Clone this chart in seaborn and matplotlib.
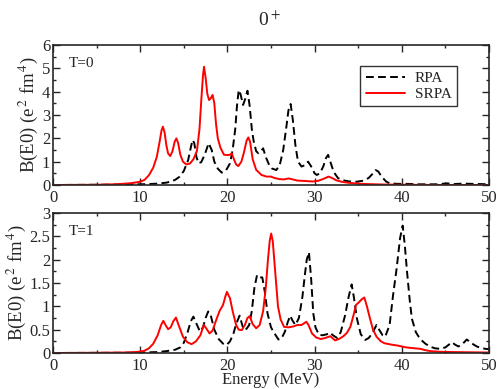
import numpy as np
import pandas as pd
import matplotlib
matplotlib.use("Agg")
import matplotlib.pyplot as plt
from matplotlib.ticker import MultipleLocator
import seaborn as sns

# ---------------- data ----------------
t0_srpa_E = [0, 5, 7, 8, 9, 10, 10.5, 11, 11.5, 11.9, 12.2, 12.45, 12.6, 12.8, 13.0, 13.2, 13.45, 13.7, 13.95, 14.15,
             14.35, 14.6, 14.9, 15.3, 15.7, 16.1, 16.5, 16.8, 17.0, 17.2, 17.32, 17.5, 17.7, 17.9, 18.1, 18.3, 18.5,
             18.7, 18.9, 19.2, 19.6, 20.0, 20.3, 20.5, 20.75, 21.0, 21.25, 21.6, 21.9, 22.2, 22.4, 22.6, 22.9, 23.3,
             23.9, 24.5, 25.0, 25.4, 26.0, 26.5, 27.0, 27.5, 28.0, 29.0, 29.8, 30.4, 31.0, 31.6, 32.0, 32.5, 33.2,
             34.0, 35, 36, 37, 38, 40, 45, 50]
t0_srpa_B = [0.0, 0.01, 0.03, 0.05, 0.08, 0.14, 0.22, 0.42, 0.75, 1.2, 1.8, 2.35, 2.5, 2.25, 1.7, 1.35, 1.24, 1.45, 1.85, 2.0,
             1.8, 1.3, 1.0, 0.88, 0.92, 1.1, 1.45, 2.4, 3.6, 4.7, 5.07, 4.6, 3.9, 3.64, 3.72, 3.86, 3.5,
             2.6, 2.0, 1.6, 1.3, 1.28, 1.3, 1.36, 1.1, 0.88, 0.81, 1.0, 1.4, 1.9, 2.04, 1.85, 1.1, 0.65,
             0.43, 0.36, 0.36, 0.3, 0.25, 0.24, 0.28, 0.24, 0.19, 0.17, 0.15, 0.18, 0.26, 0.36, 0.3, 0.2, 0.13,
             0.09, 0.06, 0.04, 0.03, 0.02, 0.01, 0.0, 0.0]

t0_rpa_E = [0, 5, 8, 10, 11, 12, 13, 13.5, 14, 14.5, 15.0, 15.5, 15.8, 16.0, 16.2, 16.45, 16.7, 17.0, 17.4, 17.85, 18.2,
            18.5, 18.9, 19.35, 19.8, 20.3, 20.6, 20.9, 21.1, 21.3, 21.5, 21.8, 22.05, 22.3, 22.55, 22.8, 23.0, 23.3,
            23.55, 23.85, 24.1, 24.4, 24.8, 25.1, 25.6, 26.0, 26.4, 26.8, 27.0, 27.25, 27.5, 27.8, 28.1, 28.5, 28.9,
            29.25, 29.6, 30.0, 30.25, 30.6, 31.0, 31.3, 31.55, 31.8, 32.2, 32.7, 33.3, 34.0, 34.8, 35.5, 36.2, 36.7,
            37.0, 37.3, 37.7, 38.2, 38.6, 39.5, 40.5, 42, 44, 45.2, 46, 47, 48, 49, 50]
t0_rpa_B = [0.0, 0.01, 0.02, 0.03, 0.04, 0.06, 0.1, 0.15, 0.22, 0.35, 0.6, 1.07, 1.6, 1.93, 1.8, 1.2, 0.93, 0.98, 1.3, 1.79, 1.5,
            1.0, 0.7, 0.53, 0.6, 0.93, 1.5, 2.4, 3.4, 4.07, 3.9, 3.43, 3.7, 4.04, 3.4, 2.4, 1.9, 1.45,
            1.36, 1.45, 1.57, 1.2, 0.85, 0.71, 0.64, 0.85, 1.5, 2.6, 3.2, 3.47, 2.8, 1.7, 1.0, 0.79, 0.85,
            1.0, 0.8, 0.5, 0.43, 0.5, 0.8, 1.15, 1.29, 1.0, 0.55, 0.29, 0.2, 0.15, 0.14, 0.18, 0.3, 0.5,
            0.64, 0.58, 0.35, 0.15, 0.07, 0.05, 0.05, 0.03, 0.03, 0.07, 0.04, 0.06, 0.05, 0.04, 0.03]

t1_srpa_E = [0, 5, 8, 9, 10, 10.5, 11, 11.5, 12.0, 12.4, 12.65, 12.9, 13.2, 13.5, 13.8, 14.1, 14.4, 14.9, 15.4, 15.9,
             16.4, 16.9, 17.3, 17.6, 17.95, 18.3, 18.7, 19.1, 19.5, 19.75, 19.95, 20.3, 20.6, 21.0, 21.3, 21.65, 22.0,
             22.3, 22.55, 22.9, 23.3, 23.7, 24.1, 24.4, 24.65, 24.85, 25.02, 25.2, 25.5, 25.8, 26.1, 26.5, 27.0, 27.6,
             28.0, 28.5, 29.05, 29.3, 29.7, 30.2, 30.7, 31.2, 31.8, 32.35, 32.8, 33.3, 33.7, 34.1, 34.45, 34.75, 35.1,
             35.4, 35.7, 36.0, 36.35, 36.7, 37.1, 37.6, 38.0, 38.8, 39.5, 40.5, 41.5, 42.1, 42.7, 43.3, 44.5, 46, 48, 50]
t1_srpa_B = [0.0, 0.005, 0.01, 0.015, 0.03, 0.05, 0.1, 0.2, 0.38, 0.6, 0.69, 0.6, 0.51, 0.55, 0.68, 0.76, 0.6, 0.35, 0.23, 0.19,
             0.25, 0.38, 0.6, 0.52, 0.42, 0.48, 0.7, 0.9, 1.03, 1.2, 1.31, 1.17, 0.9, 0.6, 0.5, 0.49, 0.6,
             0.75, 0.79, 0.62, 0.53, 0.6, 0.9, 1.4, 2.0, 2.4, 2.56, 2.4, 1.7, 1.0, 0.72, 0.56, 0.55, 0.57,
             0.6, 0.6, 0.67, 0.6, 0.42, 0.33, 0.3, 0.32, 0.36, 0.27, 0.3, 0.36, 0.43, 0.56, 0.8, 1.03, 1.09,
             1.15, 1.19, 1.0, 0.74, 0.5, 0.35, 0.25, 0.21, 0.18, 0.16, 0.12, 0.1, 0.09, 0.06, 0.04, 0.025, 0.02, 0.015, 0.01]

t1_rpa_E = [0, 8, 10, 11, 12, 13, 14, 14.6, 15.0, 15.4, 15.8, 16.1, 16.4, 16.85, 17.2, 17.5, 17.8, 18.1, 18.5, 19.0, 19.5,
            19.9, 20.3, 20.7, 21.0, 21.4, 21.7, 21.9, 22.2, 22.5, 22.8, 23.1, 23.4, 23.7, 24.0, 24.3, 24.6, 25.0, 25.3,
            25.85, 26.2, 26.6, 26.9, 27.2, 27.45, 27.8, 28.2, 28.6, 28.9, 29.1, 29.35, 29.6, 29.85, 30.1, 30.5, 30.9,
            31.4, 31.75, 32.1, 32.6, 33.0, 33.5, 33.9, 34.25, 34.5, 34.85, 35.3, 35.8, 36.2, 36.6, 37.1, 37.4, 37.8,
            38.1, 38.6, 39.0, 39.4, 39.8, 40.1, 40.35, 40.6, 40.9, 41.15, 41.6, 42.1, 42.7, 43.2, 43.8, 44.4, 45.0,
            45.4, 45.75, 46.1, 46.5, 47.0, 47.45, 47.9, 48.6, 49.2, 50]
t1_rpa_B = [0.0, 0.005, 0.01, 0.015, 0.02, 0.04, 0.07, 0.12, 0.22, 0.42, 0.68, 0.78, 0.65, 0.46, 0.55, 0.75, 0.89, 0.8, 0.5, 0.3, 0.2,
            0.17, 0.25, 0.42, 0.62, 0.8, 0.6, 0.49, 0.52, 0.6, 0.9, 1.4, 1.67, 1.62, 1.62, 1.3, 0.85, 0.55, 0.45,
            0.29, 0.31, 0.46, 0.65, 0.8, 0.7, 0.6, 0.75, 1.2, 1.7, 2.0, 2.16, 1.6, 0.85, 0.55, 0.39, 0.38,
            0.4, 0.44, 0.38, 0.32, 0.45, 0.81, 1.2, 1.47, 1.2, 0.74, 0.4, 0.28, 0.32, 0.42, 0.6, 0.5, 0.38,
            0.35, 0.6, 1.24, 1.8, 2.46, 2.73, 2.3, 1.74, 1.15, 0.74, 0.45, 0.3, 0.2, 0.14, 0.1, 0.09, 0.12,
            0.18, 0.23, 0.18, 0.14, 0.2, 0.29, 0.22, 0.14, 0.1, 0.08]

series_names = ["RPA", "SRPA"]
panel_labels = ["T=0", "T=1"]
title_text = "0$^+$"
x_label = "Energy (MeV)"
y_label = "B(E0) (e$^{\\,2}$ fm$^{\\,4}$)"
x_ticks = [0, 10, 20, 30, 40, 50]
y_lims = [(0, 6), (0, 3)]

# ---------------- build tidy frames ----------------
def frame(E_rpa, B_rpa, E_srpa, B_srpa):
    a = pd.DataFrame({"E": E_rpa, "B": B_rpa, "model": series_names[0]})
    b = pd.DataFrame({"E": E_srpa, "B": B_srpa, "model": series_names[1]})
    return pd.concat([a, b], ignore_index=True)

df0 = frame(t0_rpa_E, t0_rpa_B, t0_srpa_E, t0_srpa_B)
df1 = frame(t1_rpa_E, t1_rpa_B, t1_srpa_E, t1_srpa_B)

# ---------------- style ----------------
sns.set_style("ticks")
plt.rcParams["font.family"] = ["Liberation Serif", "DejaVu Serif"]
plt.rcParams["mathtext.fontset"] = "stix"

fig = plt.figure(figsize=(4.98, 3.89), dpi=100)
W, H = 498, 389
ax0 = fig.add_axes([53 / W, 1 - 185 / H, 436 / W, 140 / H])
ax1 = fig.add_axes([53 / W, 1 - 353 / H, 436 / W, 140 / H])

palette = {series_names[0]: "black", series_names[1]: "#ff0000"}
dashes = {series_names[0]: (4, 2.2), series_names[1]: ""}

for ax, df, ylim, lab, ymaj, ymin in [
    (ax0, df0, y_lims[0], panel_labels[0], 1, 0.5),
    (ax1, df1, y_lims[1], panel_labels[1], 0.5, 0.25),
]:
    sns.lineplot(data=df, x="E", y="B", hue="model", style="model", palette=palette,
                 dashes=dashes, linewidth=1.4, ax=ax, legend=(ax is ax0), sort=False,
                 estimator=None)
    ax.set_xlim(0, 50)
    ax.set_ylim(*ylim)
    ax.set_xticks(x_ticks)
    ax.xaxis.set_minor_locator(MultipleLocator(5))
    ax.yaxis.set_major_locator(MultipleLocator(ymaj))
    ax.yaxis.set_minor_locator(MultipleLocator(ymin))
    ax.yaxis.set_major_formatter(matplotlib.ticker.FormatStrFormatter("%g"))
    ax.tick_params(which="both", direction="in", top=True, right=True, labelsize=12)
    ax.tick_params(axis="x", pad=3.5)
    ax.tick_params(axis="y", pad=2)
    ax.tick_params(which="major", length=5, width=1)
    ax.tick_params(which="minor", length=2.5, width=1)
    for s in ax.spines.values():
        s.set_linewidth(1.2)
        s.set_visible(True)
    ax.set_ylabel(y_label, fontsize=13.5, labelpad=1)
    ax.set_xlabel("")
    ax.text(0.035, 0.87, lab, transform=ax.transAxes, fontsize=11, va="center", ha="left")

ax1.set_xlabel(x_label, fontsize=12, labelpad=-1)

leg = ax0.legend(loc="upper left", bbox_to_anchor=(0.705, 0.85), frameon=True, fancybox=False,
                 edgecolor="black", fontsize=11, handlelength=2.6, borderpad=0.35,
                 labelspacing=0.15, handletextpad=0.6, borderaxespad=0)
leg.get_frame().set_linewidth(1.0)

fig.text(269 / W, 1 - 20 / H, title_text, ha="center", va="center", fontsize=14)

fig.savefig("out.png", dpi=100)
